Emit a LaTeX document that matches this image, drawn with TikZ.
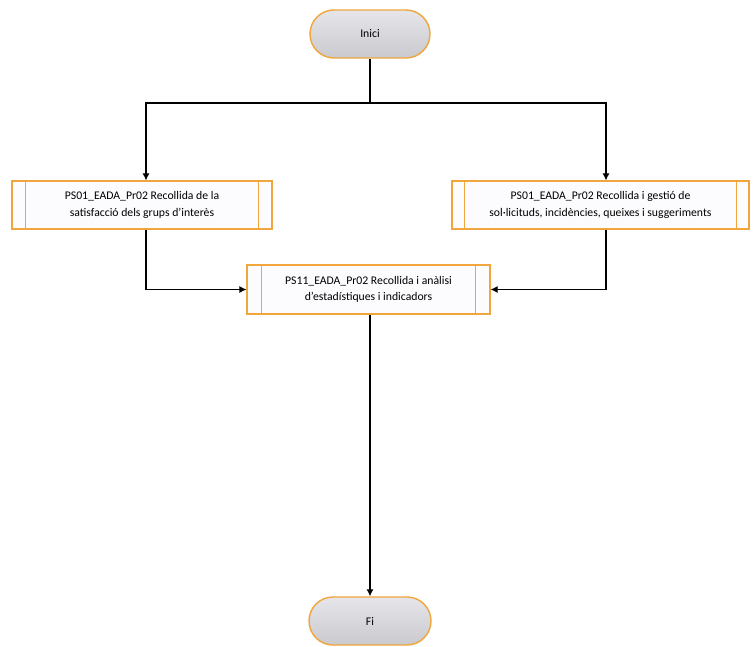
\documentclass[tikz,border=0pt]{standalone}
\usepackage{fontspec}
\setmainfont{Carlito}
\usepackage{xcolor}
\usepackage{tikz}
\usetikzlibrary{arrows.meta}
\definecolor{flowedge}{HTML}{F0A63C}
\definecolor{flowgray}{HTML}{C9C9CE}
\definecolor{flowlight}{HTML}{E6E6EA}
\definecolor{flowbox}{HTML}{FCFCFE}

\begin{document}
\begin{tikzpicture}[x=0.03cm,y=-0.03cm,
    terminal/.style={draw=flowedge,line width=1.2pt,rounded corners=0.72cm,
      top color=flowlight,bottom color=flowgray,minimum width=3.6cm,minimum height=1.44cm,
      font=\fontsize{10}{12}\selectfont},
    subproc/.style={draw=flowedge,line width=1pt,fill=flowbox,minimum height=1.44cm,
      align=center,font=\fontsize{10}{14}\selectfont},
    flow/.style={draw=black,line width=0.9pt,-{Latex[length=6pt,width=6pt]}}]
  \useasboundingbox (0,0) rectangle (753,647);

  \node[terminal] (start) at (370,34) {Inici};
  \node[subproc,minimum width=7.8cm] (lbox) at (142,205)
    {PS01\_EADA\_Pr02 Recollida de la\\ satisfacció dels grups d'interès};
  \node[subproc,minimum width=8.91cm] (rbox) at (600.5,205)
    {PS01\_EADA\_Pr02 Recollida i gestió de\\ sol·licituds, incidències, queixes i suggeriments};
  \node[subproc,minimum width=7.29cm,minimum height=1.47cm] (mid) at (368.5,289.5)
    {PS11\_EADA\_Pr02 Recollida i anàlisi\\ d'estadístiques i indicadors};
  \node[terminal,minimum width=3.66cm] (stop) at (370,621) {Fi};

  % inner side lines of the subprocess boxes
  \foreach \n/\d in {lbox/14,rbox/13,mid/15}{
    \draw[flowedge,line width=0.8pt] ([xshift=\d*0.03cm]\n.north west) -- ([xshift=\d*0.03cm]\n.south west);
    \draw[flowedge,line width=0.8pt] ([xshift=-\d*0.03cm]\n.north east) -- ([xshift=-\d*0.03cm]\n.south east);
  }

  \coordinate (split) at (370,103);
  \coordinate (ltop) at ([xshift=0.12cm]lbox.north);
  \coordinate (rtop) at ([xshift=0.165cm]rbox.north);
  \draw[line width=0.9pt] (start.south) -- (split);
  \draw[flow] (split) -| (ltop);
  \draw[flow] (split) -| (rtop);
  \draw[flow] ([xshift=0.12cm]lbox.south) |- (mid.west);
  \draw[flow] ([xshift=0.165cm]rbox.south) |- (mid.east);
  \draw[flow] (mid.south -| stop.north) -- (stop.north);
\end{tikzpicture}
\end{document}
